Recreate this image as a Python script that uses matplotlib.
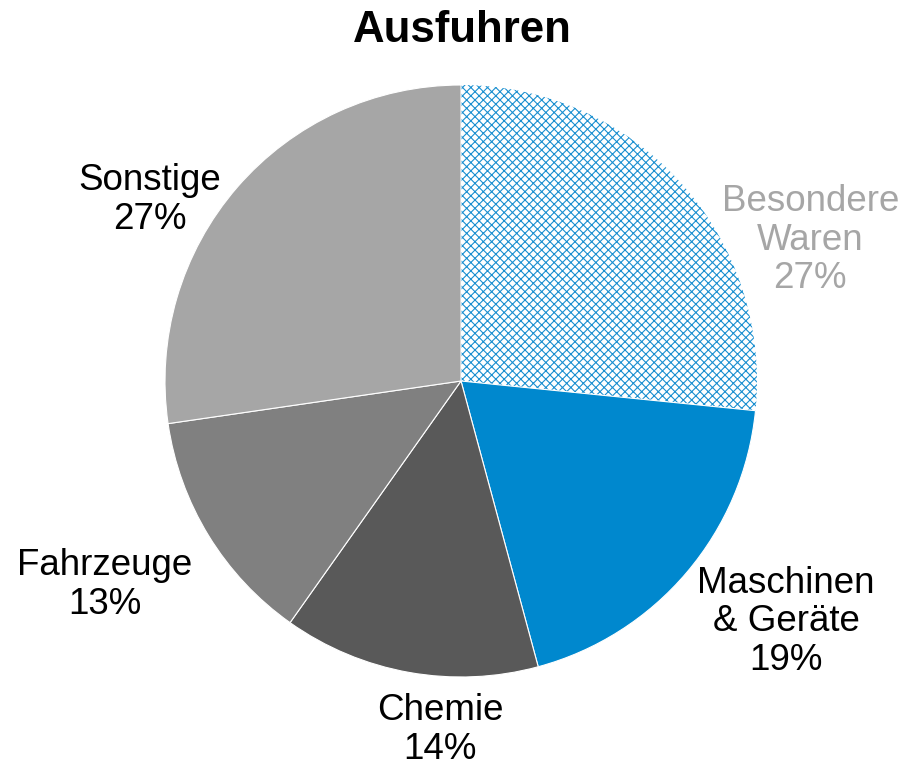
import matplotlib
matplotlib.use("Agg")
import matplotlib.pyplot as plt

# data (clockwise from 12 o'clock)
categories = ["Besondere\nWaren", "Maschinen\n& Geräte", "Chemie", "Fahrzeuge", "Sonstige"]
shares = [26.6, 19.2, 14.0, 12.9, 27.3]
pct_labels = ["27%", "19%", "14%", "13%", "27%"]

colors = ["white", "#0088CE", "#595959", "#808080", "#A6A6A6"]
label_colors = ["#A6A6A6", "black", "black", "black", "black"]
# label centres in pie units (radius = 1)
label_pos = [(1.18, 0.476), (1.098, -0.814), (-0.071, -1.179), (-1.203, -0.689), (-1.051, 0.611)]

plt.rcParams["font.family"] = ["Liberation Sans", "DejaVu Sans"]
plt.rcParams["hatch.linewidth"] = 0.8

fig = plt.figure(figsize=(9.03, 7.68), dpi=100)
cx, cy, r = 461, 387, 296
ax = fig.add_axes([(cx - r) / 903, (cy - r) / 768, 2 * r / 903, 2 * r / 768])

wedges, _ = ax.pie(shares, colors=colors, startangle=90, counterclock=False,
                   radius=1, wedgeprops=dict(edgecolor="white", linewidth=0.8))
wedges[0].set_hatch("xxxx")
wedges[0].set_edgecolor("#1a8fd0")
wedges[0].set_linewidth(0)

for (x, y), cat, pct, col in zip(label_pos, categories, pct_labels, label_colors):
    ax.text(x, y, cat + "\n" + pct, ha="center", va="center", fontsize=26.5,
            color=col, linespacing=1.13)

ax.set_xlim(-1, 1)
ax.set_ylim(-1, 1)
ax.set_aspect("equal")
ax.axis("off")

fig.text(462 / 903, 1 - 30 / 768, "Ausfuhren", ha="center", va="center",
         fontsize=31.5, fontweight="bold")

fig.savefig("out.png", dpi=100)
